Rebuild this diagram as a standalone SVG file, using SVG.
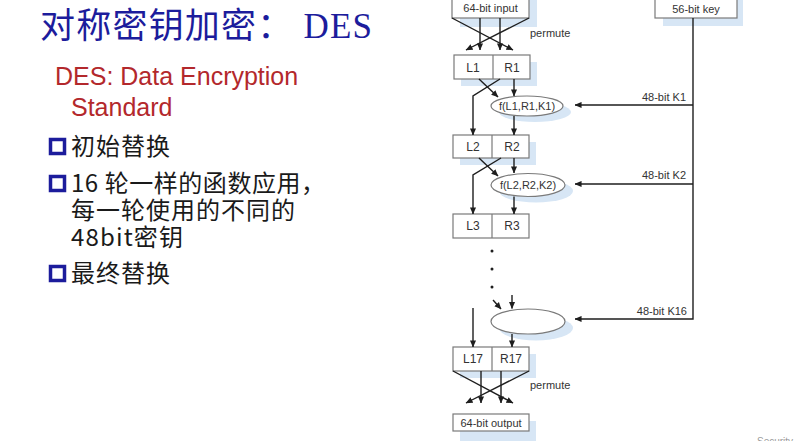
<svg xmlns="http://www.w3.org/2000/svg" width="794" height="441" viewBox="0 0 794 441">
  <defs>
    <marker id="arr" viewBox="0 0 8 8" refX="7.5" refY="4" markerWidth="7" markerHeight="7" markerUnits="userSpaceOnUse" orient="auto">
      <path d="M0,0.5 L8,4 L0,7.5 Z" fill="#1e1e1e"/>
    </marker>
  </defs>
  <style>
    .title { font-family: "Liberation Serif", "Noto Sans CJK SC", serif; font-size: 35px; fill: #1c1c9c; }
    .sub { font-family: "Liberation Sans", sans-serif; font-size: 25px; fill: #b3282c; }
    .item { font-family: "Noto Sans CJK SC", sans-serif; font-size: 24px; fill: #1a1a1a; }
    .bullet { fill: #ffffff; stroke: #1c1c9c; stroke-width: 3.5; }
    .box { fill: #ffffff; stroke: #7a7a7a; stroke-width: 1.2; }
    .shadow { fill: #d7e6f5; }
    .lbl { font-family: "Liberation Sans", sans-serif; font-size: 11px; fill: #333333; }
    .cell { font-family: "Liberation Sans", sans-serif; font-size: 12px; fill: #333333; text-anchor: middle; }
    .arrow { fill: none; stroke: #1e1e1e; stroke-width: 1.4; marker-end: url(#arr); }
  </style>
  <rect width="794" height="441" fill="#ffffff"/>

  <!-- left: heading and bullet list -->
  <g id="heading">
    <text class="title" x="40" y="38" textLength="332" lengthAdjust="spacing">对称密钥加密： DES</text>
  </g>
  <g id="subtitle">
    <text class="sub" x="55" y="85">DES: Data Encryption</text>
    <text class="sub" x="71" y="116">Standard</text>
  </g>
  <g id="list">
    <rect class="bullet" x="50.5" y="139.5" width="14" height="14"/>
    <text class="item" x="71" y="155" textLength="99" lengthAdjust="spacing">初始替换</text>
    <rect class="bullet" x="50.5" y="176.5" width="14" height="14"/>
    <text class="item" x="71" y="192" textLength="254" lengthAdjust="spacing">16 轮一样的函数应用，</text>
    <text class="item" x="71" y="219" textLength="224" lengthAdjust="spacing">每一轮使用的不同的</text>
    <text class="item" x="71" y="246" textLength="112" lengthAdjust="spacing">48bit密钥</text>
    <rect class="bullet" x="50.5" y="266.5" width="14" height="14"/>
    <text class="item" x="71" y="282" textLength="99" lengthAdjust="spacing">最终替换</text>
  </g>

  <!-- right: DES rounds -->
  <g id="input">
    <rect class="shadow" x="460" y="-4" width="77" height="31"/>
    <rect class="box" x="452" y="-10" width="77" height="28"/>
    <text class="lbl" x="490.5" y="12" text-anchor="middle">64-bit input</text>
  </g>
  <g id="key">
    <rect class="shadow" x="663" y="-4" width="80" height="30"/>
    <rect class="box" x="655" y="-10" width="82" height="28"/>
    <text class="lbl" x="696" y="13" text-anchor="middle">56-bit key</text>
  </g>
  <g id="lr1">
    <rect class="shadow" x="461" y="62" width="76" height="24"/>
    <rect class="box" x="454" y="55" width="76" height="24"/>
    <line x1="493" y1="55" x2="493" y2="79" stroke="#7a7a7a" stroke-width="1.2"/>
    <text class="cell" x="473" y="72">L1</text>
    <text class="cell" x="512" y="72">R1</text>
  </g>
  <g id="f1">
    <ellipse class="shadow" cx="535" cy="112" rx="36" ry="10"/>
    <ellipse class="box" cx="527" cy="106" rx="36" ry="10"/>
    <text class="lbl" x="527" y="110" text-anchor="middle">f(L1,R1,K1)</text>
  </g>
  <g id="lr2">
    <rect class="shadow" x="460" y="142" width="76" height="23"/>
    <rect class="box" x="453" y="135" width="76" height="23"/>
    <line x1="492" y1="135" x2="492" y2="158" stroke="#7a7a7a" stroke-width="1.2"/>
    <text class="cell" x="473" y="151">L2</text>
    <text class="cell" x="512" y="151">R2</text>
  </g>
  <g id="f2">
    <ellipse class="shadow" cx="536" cy="191" rx="37" ry="11.5"/>
    <ellipse class="box" cx="528" cy="185" rx="37" ry="11.5"/>
    <text class="lbl" x="528" y="189" text-anchor="middle">f(L2,R2,K2)</text>
  </g>
  <g id="lr3">
    <rect class="box" x="453" y="214" width="76" height="24"/>
    <line x1="492" y1="214" x2="492" y2="238" stroke="#7a7a7a" stroke-width="1.2"/>
    <text class="cell" x="473" y="230">L3</text>
    <text class="cell" x="512" y="230">R3</text>
  </g>
  <g id="ellipsis">
    <circle cx="492" cy="251" r="1.5" fill="#1e1e1e"/>
    <circle cx="492" cy="269" r="1.5" fill="#1e1e1e"/>
    <circle cx="492" cy="287" r="1.5" fill="#1e1e1e"/>
  </g>
  <g id="f16">
    <ellipse class="shadow" cx="536" cy="328" rx="37" ry="12.5"/>
    <ellipse class="box" cx="528" cy="321.5" rx="37" ry="12.5"/>
  </g>
  <g id="lr17">
    <rect class="shadow" x="460" y="354" width="76" height="24"/>
    <rect class="box" x="453" y="347" width="76" height="24"/>
    <line x1="492" y1="347" x2="492" y2="371" stroke="#7a7a7a" stroke-width="1.2"/>
    <text class="cell" x="473" y="363">L17</text>
    <text class="cell" x="511" y="363">R17</text>
  </g>
  <g id="output">
    <rect class="shadow" x="460" y="421" width="76" height="20"/>
    <rect class="box" x="453" y="414" width="76" height="17"/>
    <text class="lbl" x="491" y="427" text-anchor="middle">64-bit output</text>
  </g>

  <g id="connectors">
    <!-- initial permutation -->
    <line class="arrow" x1="452" y1="18" x2="513" y2="50"/>
    <line class="arrow" x1="529" y1="18" x2="466" y2="50"/>
    <line class="arrow" x1="480" y1="18" x2="480" y2="50"/>
    <line class="arrow" x1="500" y1="18" x2="500" y2="50"/>
    <!-- round 1 -->
    <line class="arrow" x1="479" y1="79" x2="498" y2="97"/>
    <polyline class="arrow" points="500,79 473,96 473,135"/>
    <line class="arrow" x1="514" y1="79" x2="514" y2="96"/>
    <line class="arrow" x1="514" y1="116" x2="514" y2="135"/>
    <!-- round 2 -->
    <line class="arrow" x1="479" y1="158" x2="498" y2="176"/>
    <polyline class="arrow" points="501,158 473,175 473,214"/>
    <line class="arrow" x1="514" y1="158" x2="514" y2="173"/>
    <line class="arrow" x1="514" y1="196.5" x2="514" y2="214"/>
    <!-- round 16 -->
    <line class="arrow" x1="493" y1="300" x2="501" y2="309"/>
    <line class="arrow" x1="512" y1="295" x2="512" y2="308.5"/>
    <line class="arrow" x1="473" y1="308" x2="473" y2="347"/>
    <line class="arrow" x1="512" y1="334" x2="512" y2="347"/>
    <!-- final permutation -->
    <line class="arrow" x1="453" y1="371" x2="513" y2="403"/>
    <line class="arrow" x1="529" y1="371" x2="466" y2="403"/>
    <line class="arrow" x1="481" y1="371" x2="481" y2="403"/>
    <line class="arrow" x1="501" y1="371" x2="501" y2="403"/>
    <!-- key schedule -->
    <polyline class="arrow" points="693,18 693,319 575,319"/>
    <line class="arrow" x1="693" y1="105" x2="575" y2="105"/>
    <line class="arrow" x1="693" y1="184" x2="575" y2="184"/>
  </g>

  <g id="labels">
    <text class="lbl" x="530" y="37">permute</text>
    <text class="lbl" x="530" y="389">permute</text>
    <text class="lbl" x="686" y="101" text-anchor="end">48-bit K1</text>
    <text class="lbl" x="686" y="179" text-anchor="end">48-bit K2</text>
    <text class="lbl" x="687" y="315" text-anchor="end">48-bit K16</text>
  </g>

  <text x="757" y="445" font-family="Liberation Sans, sans-serif" font-size="10" fill="#9a9a9a">Security</text>
</svg>
